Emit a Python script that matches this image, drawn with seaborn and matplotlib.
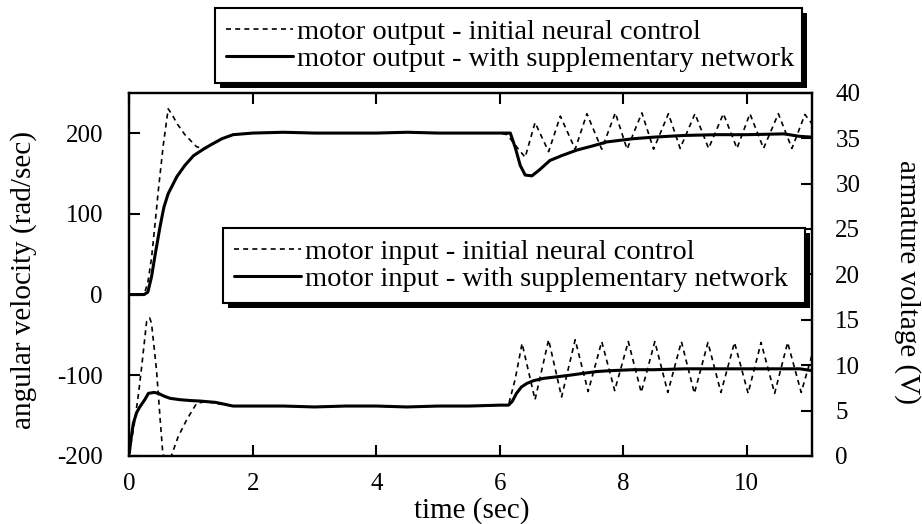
import matplotlib
matplotlib.use("Agg")
import matplotlib.pyplot as plt
import matplotlib.transforms as mtransforms
from matplotlib.patches import Rectangle
import pandas as pd
import seaborn as sns

# ---------------- data ----------------
# motor output (angular velocity, rad/sec) - initial neural control
t_out_init = [0, 0.24, 0.30, 0.36, 0.42, 0.47, 0.55, 0.63, 0.70, 0.77,
              0.90, 1.09, 1.20, 1.31, 1.50, 1.68, 2.0, 2.5, 3.0, 3.5,
              4.0, 4.5, 5.0, 5.5, 6.0, 6.12, 6.25, 6.41, 6.57, 6.79,
              6.98, 7.22, 7.41, 7.65, 7.87, 8.06, 8.30, 8.49, 8.73, 8.92,
              9.16, 9.38, 9.62, 9.84, 10.05, 10.27, 10.51, 10.73, 10.94, 11.05]
v_out_init = [0, 0, 15, 45, 90, 129, 185, 230, 222, 212,
              198, 183, 181, 185, 193, 198, 200, 201, 200, 200,
              200, 201, 200, 200, 200, 198, 185, 170, 213, 177,
              221, 180, 224, 180, 225, 180, 225, 180, 224, 181,
              224, 181, 224, 181, 224, 181, 224, 181, 223, 212]

# motor output - with supplementary network
t_out_sup = [0, 0.24, 0.30, 0.36, 0.42, 0.50, 0.56, 0.63, 0.77, 0.90,
             1.04, 1.20, 1.31, 1.50, 1.68, 2.0, 2.5, 3.0, 3.5, 4.0,
             4.5, 5.0, 5.5, 6.0, 6.17, 6.25, 6.33, 6.41, 6.52, 6.65,
             6.81, 7.0, 7.25, 7.5, 7.73, 8.16, 8.5, 8.97, 9.5, 10.0,
             10.6, 10.85, 11.05]
v_out_sup = [0, 0, 3, 22, 50, 85, 108, 125, 146, 160,
             172, 180, 185, 193, 198, 200, 201, 200, 200, 200,
             201, 200, 200, 200, 200, 182, 160, 148, 147, 155,
             166, 172, 179, 184, 189, 193, 195, 197, 198, 198,
             199, 196, 195]

# motor input (armature voltage, V) - initial neural control
t_in_init = [0, 0.08, 0.15, 0.20, 0.28, 0.33, 0.36, 0.44, 0.50, 0.54,
             0.60, 0.68, 0.79, 0.93, 1.09, 1.25, 1.4, 1.68, 2.0, 2.5,
             3.0, 3.5, 4.0, 4.5, 5.0, 5.5, 6.0, 6.14, 6.25, 6.36,
             6.57, 6.79, 7.0, 7.22, 7.43, 7.65, 7.86, 8.08, 8.29, 8.51,
             8.72, 8.94, 9.15, 9.37, 9.58, 9.80, 10.02, 10.23, 10.45, 10.66,
             10.88, 11.05]
V_in_init = [0.3, 3.5, 6.9, 9.8, 14.8, 15.2, 14.6, 9.5, 4.0, 0.5,
             -1.5, 0.0, 2.1, 4.0, 5.8, 6.0, 5.8, 5.5, 5.5, 5.5,
             5.4, 5.5, 5.5, 5.4, 5.5, 5.5, 5.6, 5.6, 8.5, 12.4,
             6.2, 12.8, 6.5, 12.8, 7.1, 12.6, 7.2, 12.6, 7.0, 12.6,
             7.0, 12.6, 6.9, 12.5, 7.0, 12.5, 6.9, 12.5, 6.9, 12.5,
             7.0, 11.0]

# motor input - with supplementary network
t_in_sup = [0, 0.03, 0.065, 0.12, 0.17, 0.25, 0.31, 0.40, 0.47, 0.56,
            0.66, 0.82, 1.0, 1.15, 1.4, 1.68, 2.0, 2.5, 3.0, 3.5,
            4.0, 4.5, 5.0, 5.5, 6.0, 6.14, 6.2, 6.27, 6.35, 6.44,
            6.55, 6.71, 6.9, 7.14, 7.35, 7.57, 7.8, 8.16, 8.5, 9.0,
            9.5, 10.0, 10.5, 10.86, 11.05]
V_in_sup = [0.3, 2.0, 3.6, 4.8, 5.4, 6.2, 6.9, 7.0, 6.9, 6.6,
            6.35, 6.2, 6.1, 6.05, 5.9, 5.5, 5.5, 5.5, 5.4, 5.5,
            5.5, 5.4, 5.5, 5.5, 5.6, 5.6, 6.0, 6.9, 7.6, 8.0,
            8.3, 8.55, 8.7, 8.9, 9.1, 9.3, 9.4, 9.5, 9.5, 9.6,
            9.6, 9.6, 9.6, 9.6, 9.4]

x_ticks = [0, 2, 4, 6, 8, 10]
y_left_ticks = [-200, -100, 0, 100, 200]
y_right_ticks = [0, 5, 10, 15, 20, 25, 30, 35, 40]

lab_out_init = "motor output - initial neural control"
lab_out_sup = "motor output - with supplementary network"
lab_in_init = "motor input - initial neural control"
lab_in_sup = "motor input - with supplementary network"

# ---------------- style ----------------
sns.set_theme(style="ticks")
plt.rcParams["font.family"] = ["Liberation Serif", "DejaVu Serif"]
for k in ["text.color", "axes.labelcolor", "xtick.color", "ytick.color", "axes.edgecolor"]:
    plt.rcParams[k] = "black"
plt.rcParams["axes.linewidth"] = 1.6
plt.rcParams["axes.unicode_minus"] = False

W, H = 922, 524
fig = plt.figure(figsize=(W / 100, H / 100), dpi=100)
ax = fig.add_axes([129.3 / W, (H - 456) / H, (811.7 - 129.3) / W, (456 - 92.7) / H])
ax2 = ax.twinx()

dash = (0, (3, 2.5))
df_oi = pd.DataFrame({"t": t_out_init, "v": v_out_init})
df_os = pd.DataFrame({"t": t_out_sup, "v": v_out_sup})
df_ii = pd.DataFrame({"t": t_in_init, "v": V_in_init})
df_is = pd.DataFrame({"t": t_in_sup, "v": V_in_sup})

sns.lineplot(data=df_oi, x="t", y="v", ax=ax, color="black", lw=1.2, linestyle=dash,
             sort=False, estimator=None, legend=False, label=lab_out_init)
sns.lineplot(data=df_os, x="t", y="v", ax=ax, color="black", lw=2.2,
             sort=False, estimator=None, legend=False, label=lab_out_sup)
sns.lineplot(data=df_ii, x="t", y="v", ax=ax2, color="black", lw=1.2, linestyle=dash,
             sort=False, estimator=None, legend=False, label=lab_in_init)
sns.lineplot(data=df_is, x="t", y="v", ax=ax2, color="black", lw=2.2,
             sort=False, estimator=None, legend=False, label=lab_in_sup)

ax.set_xlim(0, 11.05)
ax.set_ylim(-200, 250)
ax2.set_ylim(0, 40)
ax.set_xticks(x_ticks)
ax.set_yticks(y_left_ticks)
ax2.set_yticks(y_right_ticks)

ax.tick_params(axis="x", direction="in", length=8, width=1.5, top=True, labelsize=18, pad=12)
ax.tick_params(axis="y", direction="in", length=8, width=1.5, right=False, labelsize=18, pad=19)
ax2.tick_params(axis="y", direction="in", length=8, width=1.5, labelsize=18, pad=17)
for a in (ax, ax2):
    for s in a.spines.values():
        s.set_color("black")
        s.set_linewidth(1.6)

ax.set_xlabel("time (sec)", fontsize=21)
ax.xaxis.label.set_va("center")
ax.xaxis.set_label_coords(0.502, -0.149)
ax.set_ylabel("angular velocity (rad/sec)", fontsize=21)
ax.yaxis.label.set_va("center")
ax.yaxis.set_label_coords(-0.155, 0.484)
ax2.set_ylabel("armature voltage (V)", fontsize=21, rotation=270)
ax2.yaxis.label.set_va("center")
ax2.yaxis.label.set_ha("center")
ax2.yaxis.set_label_coords(1.140, 0.480)

h1, l1 = ax.get_legend_handles_labels()
h2, l2 = ax2.get_legend_handles_labels()

leg_kw = dict(loc="upper left", mode="expand", borderaxespad=0, fancybox=False,
              framealpha=1, edgecolor="black", facecolor="white", fontsize=20.5,
              handlelength=2.35, handletextpad=0.15, borderpad=0.38, labelspacing=0.05)
leg1 = ax2.legend(h1, l1, bbox_to_anchor=(215 / W, 1 - 8 / H - 0.01, 587 / W, 0.01),
                  bbox_transform=fig.transFigure, **leg_kw)
leg1.get_frame().set_linewidth(1.5)
ax2.add_artist(leg1)
leg2 = ax2.legend(h2, l2, bbox_to_anchor=(223 / W, 1 - 228 / H - 0.01, 582 / W, 0.01),
                  bbox_transform=fig.transFigure, **leg_kw)
leg2.get_frame().set_linewidth(1.5)

fig.canvas.draw()
for lg in (leg1, leg2):
    bb = lg.get_frame().get_window_extent(fig.canvas.get_renderer())
    sh = Rectangle((bb.x0 + 5, bb.y0 - 5), bb.width, bb.height,
                   transform=mtransforms.IdentityTransform(), facecolor="black",
                   edgecolor="none", zorder=lg.get_zorder() - 0.1, clip_on=False)
    ax2.add_artist(sh)

fig.savefig("out.png", dpi=100)
